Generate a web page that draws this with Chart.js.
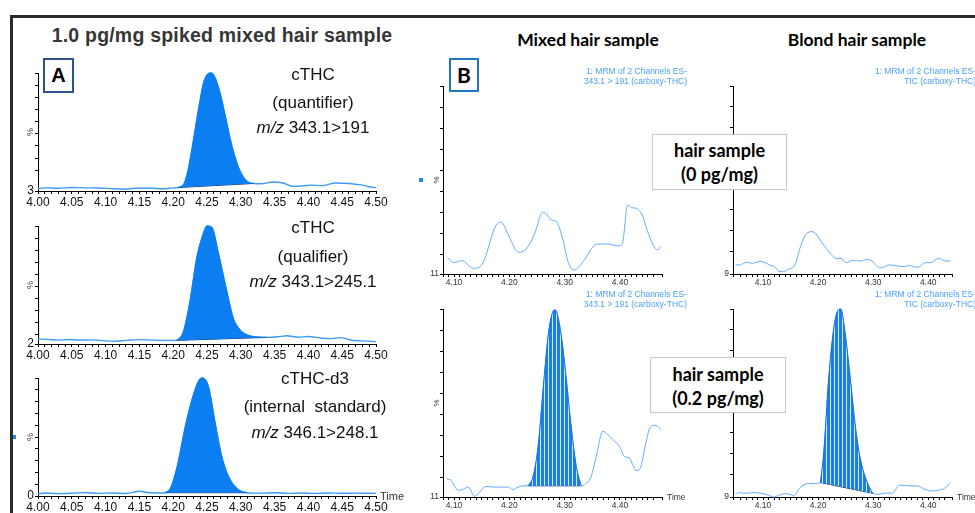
<!DOCTYPE html>
<html>
<head>
<meta charset="utf-8">
<script src="https://cdn.jsdelivr.net/npm/chart.js@4.4.0/dist/chart.umd.min.js"></script>
<style>
  body { margin: 0; width: 975px; height: 513px; position: relative; overflow: hidden; background: #fff;
         font-family: 'Liberation Sans', Arial, sans-serif; }
  canvas { position: absolute; z-index: 1; }
  .t { position: absolute; white-space: nowrap; transform: translate(-50%, -50%); z-index: 2; }
  .lbl { font-size: 17px; color: #111; }
  .head { font-family: Lato, 'Open Sans', sans-serif; font-weight: bold; font-size: 17.5px; color: #000; }
  .note { position: absolute; text-align: right; font-size: 8.5px; line-height: 10px; color: #4aa2ff; z-index: 2; white-space: nowrap; }
  .time { position: absolute; font-size: 8.5px; color: #333; z-index: 2; }
  .box { position: absolute; box-sizing: border-box; background: #fff; z-index: 3; text-align: center;
         font-family: Lato, 'Open Sans', sans-serif; font-weight: bold; font-size: 18px; color: #000; }
  .dot { position: absolute; width: 4px; height: 4px; background: #1e88ff; z-index: 2; }
</style>
</head>
<body>
<div style="position:absolute;left:10px;top:15px;width:965px;height:2.5px;background:#2b2b2b;z-index:4"></div>
<div style="position:absolute;left:10px;top:15px;width:2.5px;height:498px;background:#2b2b2b;z-index:4"></div>

<div class="t" style="left:222px;top:35px;font-weight:bold;font-size:19.5px;color:#363636;letter-spacing:0.2px">1.0 pg/mg spiked mixed hair sample</div>
<div class="box" style="left:43px;top:58px;width:31px;height:35px;border:2px solid #2f528f;font-family:'Liberation Sans',Arial;font-size:20px;line-height:31px">A</div>

<div class="t lbl" style="left:313px;top:75px">cTHC</div>
<div class="t lbl" style="left:313px;top:103px">(quantifier)</div>
<div class="t lbl" style="left:313px;top:128px"><i>m/z</i> 343.1&gt;191</div>
<div class="t lbl" style="left:313px;top:228px">cTHC</div>
<div class="t lbl" style="left:313px;top:257px">(qualifier)</div>
<div class="t lbl" style="left:313px;top:282px"><i>m/z</i> 343.1&gt;245.1</div>
<div class="t lbl" style="left:315px;top:379px">cTHC-d3</div>
<div class="t lbl" style="left:315px;top:407px">(internal&nbsp; standard)</div>
<div class="t lbl" style="left:315px;top:433px"><i>m/z</i> 346.1&gt;248.1</div>
<div class="time" style="left:380px;top:490px;font-size:11px">Time</div>
<div class="dot" style="left:12px;top:435px"></div>

<div class="t head" style="left:588px;top:39px">Mixed hair sample</div>
<div class="t head" style="left:857px;top:39px">Blond hair sample</div>
<div class="box" style="left:449px;top:58px;width:30px;height:34px;border:2px solid #1f77c4;font-size:21px;line-height:30px">B</div>
<div class="dot" style="left:419px;top:178px"></div>

<div class="note" style="right:288px;top:66px">1: MRM of 2 Channels ES-<br>343.1 &gt; 191 (carboxy-THC)</div>
<div class="note" style="right:-1px;top:66px">1: MRM of 2 Channels ES-<br>TIC (carboxy-THC)</div>
<div class="note" style="right:288px;top:289px">1: MRM of 2 Channels ES-<br>343.1 &gt; 191 (carboxy-THC)</div>
<div class="note" style="right:-1px;top:289px">1: MRM of 2 Channels ES-<br>TIC (carboxy-THC)</div>
<div class="time" style="left:667px;top:492px">Time</div>
<div class="time" style="left:957px;top:492px">Time</div>

<div class="box" style="left:652px;top:134px;width:135px;height:56px;border:1px solid #c8c8c8;line-height:23.5px;padding-top:4px">hair sample<br>(0 pg/mg)</div>
<div class="box" style="left:650px;top:357px;width:136px;height:56px;border:1px solid #c8c8c8;line-height:24px;padding-top:4px">hair sample<br>(0.2 pg/mg)</div>

<canvas id="quant"></canvas>
<canvas id="qual"></canvas>
<canvas id="istd"></canvas>
<canvas id="mixBlank"></canvas>
<canvas id="blondBlank"></canvas>
<canvas id="mixSpike"></canvas>
<canvas id="blondSpike"></canvas>

<script>
// Panel A: 1.0 pg/mg spiked mixed hair, cTHC quantifier 343.1>191
const quantTime  = [4.000, 4.010, 4.030, 4.050, 4.070, 4.090, 4.110, 4.130, 4.150, 4.170, 4.185, 4.200, 4.206,
                    4.215, 4.222, 4.230, 4.238, 4.245, 4.251, 4.256, 4.262, 4.270, 4.278, 4.286, 4.293, 4.300,
                    4.310, 4.319, 4.330, 4.348, 4.362, 4.378, 4.392, 4.405, 4.420, 4.440, 4.460, 4.478, 4.490, 4.500];
const quantValue = [4.8, 5.6, 5.3, 5.9, 5.6, 5.5, 4.8, 4.5, 5.5, 5.3, 4.8, 5.6, 5.8,
                    8, 20, 45, 72, 92, 99, 100, 96, 82, 62, 42, 28, 18,
                    10.5, 9.2, 9.0, 10.4, 9.6, 6.8, 7.2, 7.8, 7.4, 9.6, 9.2, 8.0, 6.5, 5.8];
const quantBaseTime  = [4.206, 4.319];
const quantBaseValue = [5.8, 9.2];

// cTHC qualifier 343.1>245.1
const qualTime  = [4.000, 4.015, 4.030, 4.045, 4.060, 4.080, 4.100, 4.115, 4.130, 4.150, 4.170, 4.190, 4.205,
                   4.215, 4.225, 4.235, 4.243, 4.250, 4.257, 4.267, 4.280, 4.289, 4.297, 4.304, 4.319, 4.339,
                   4.355, 4.368, 4.385, 4.400, 4.420, 4.435, 4.448, 4.462, 4.480, 4.500];
const qualValue = [6.2, 5.8, 5.2, 5.7, 5.3, 5.4, 4.6, 4.3, 5.0, 5.6, 5.2, 5.0, 5.0,
                   12, 38, 74, 91, 100, 99, 77, 44, 23, 15, 11, 8.1, 7.5,
                   8.0, 8.8, 7.6, 8.2, 6.8, 6.5, 7.3, 5.3, 4.6, 4.0];
const qualBaseTime  = [4.205, 4.339];
const qualBaseValue = [5.0, 7.5];

// cTHC-d3 internal standard 346.1>248.1
const istdTime  = [4.000, 4.010, 4.030, 4.050, 4.070, 4.090, 4.110, 4.130, 4.150, 4.165, 4.180, 4.188,
                   4.196, 4.206, 4.218, 4.228, 4.238, 4.243, 4.252, 4.262, 4.272, 4.284, 4.297, 4.309,
                   4.330, 4.350, 4.370, 4.390, 4.410, 4.430, 4.450, 4.470, 4.500];
const istdValue = [1.8, 2.6, 2.0, 2.3, 3.0, 2.2, 2.6, 2.1, 4.0, 2.7, 2.6, 2.8,
                   6.5, 25, 59, 82, 98, 100, 93, 62, 33, 14, 5.1, 2.8,
                   2.4, 2.8, 2.2, 2.5, 2.2, 2.5, 2.3, 2.4, 2.2];
const istdBaseTime  = [4.188, 4.309];
const istdBaseValue = [2.8, 2.8];

// Panel B: mixed hair blank (0 pg/mg)
const mixBlankTime  = [4.088, 4.099, 4.114, 4.135, 4.151, 4.174, 4.185, 4.198, 4.213, 4.219, 4.234, 4.246, 4.260,
                       4.265, 4.276, 4.284, 4.297, 4.306, 4.317, 4.333, 4.358, 4.378, 4.396, 4.404, 4.414, 4.421,
                       4.429, 4.441, 4.450, 4.468, 4.474];
const mixBlankValue = [18.9, 16.4, 17.3, 13.7, 15.6, 33.1, 35.6, 29.5, 21.9, 21.3, 24.0, 30.3, 40.2,
                       39.9, 36.6, 36.1, 27.1, 16.8, 12.9, 16.8, 25.1, 25.2, 24.3, 25.1, 43.7, 42.4,
                       42.1, 38.5, 31.0, 22.4, 24.0];

// blond hair blank (0 pg/mg)
const blondBlankTime  = [4.050, 4.058, 4.070, 4.080, 4.096, 4.112, 4.121, 4.129, 4.137, 4.146, 4.157, 4.168, 4.176,
                         4.187, 4.193, 4.207, 4.222, 4.234, 4.242, 4.251, 4.262, 4.277, 4.289, 4.300, 4.312, 4.330,
                         4.343, 4.358, 4.364, 4.380, 4.395, 4.404, 4.419, 4.431, 4.440];
const blondBlankValue = [13.4, 13.4, 14.7, 14.2, 15.1, 13.4, 12.5, 10.3, 10.1, 11.3, 13.0, 22.2, 27.4,
                         29.5, 29.2, 24.2, 19.0, 16.4, 16.6, 14.5, 15.5, 15.3, 16.1, 14.8, 11.9, 13.4,
                         13.0, 12.5, 13.2, 12.2, 14.5, 14.5, 16.6, 15.3, 15.3];

// mixed hair 0.2 pg/mg
const mixSpikeTime  = [4.087, 4.093, 4.108, 4.115, 4.126, 4.137, 4.146, 4.157, 4.171, 4.183, 4.198, 4.206, 4.216,
                       4.225, 4.234, 4.243, 4.252, 4.261, 4.270, 4.276, 4.282, 4.286, 4.294, 4.303, 4.311, 4.321,
                       4.330, 4.338, 4.348, 4.357, 4.369, 4.378, 4.387, 4.399, 4.408, 4.417, 4.423, 4.429, 4.436,
                       4.447, 4.454, 4.465, 4.474];
const mixSpikeValue = [19.5, 19.2, 14.1, 14.5, 15.7, 11.3, 13.2, 16.0, 15.7, 15.7, 15.7, 14.5, 15.7,
                       16.3, 16.3, 20.8, 35.0, 61.8, 87.0, 96.5, 99.7, 98.1, 87.0, 66.5, 46.0, 25.5,
                       16.3, 17.3, 20.8, 30.2, 42.1, 40.5, 38.1, 35.0, 30.2, 29.5, 26.3, 23.5, 24.3,
                       36.6, 43.7, 44.9, 42.9];
const mixSpikeBaseTime  = [4.234, 4.330];
const mixSpikeBaseValue = [16.3, 16.3];

// blond hair 0.2 pg/mg
const blondSpikeTime  = [4.050, 4.057, 4.067, 4.079, 4.098, 4.110, 4.120, 4.128, 4.138, 4.149, 4.156, 4.167, 4.182,
                         4.195, 4.204, 4.210, 4.219, 4.228, 4.234, 4.241, 4.249, 4.258, 4.267, 4.276, 4.288, 4.299,
                         4.310, 4.322, 4.334, 4.348, 4.365, 4.380, 4.392, 4.407, 4.419, 4.431, 4.440];
const blondSpikeValue = [10.3, 11.1, 10.8, 11.1, 10.8, 9.8, 9.0, 9.8, 10.6, 10.3, 9.5, 13.5, 15.5,
                         15.5, 16.0, 29.8, 65.5, 89.9, 98.1, 100, 88.3, 67.2, 44.4, 28.2, 16.8, 10.8,
                         10.3, 10.9, 10.8, 14.8, 14.4, 14.4, 12.9, 11.9, 12.3, 13.5, 16.0];
const blondSpikeBaseTime  = [4.204, 4.299];
const blondSpikeBaseValue = [16.0, 10.8];

const YW = 30, PT = 10, PR = 22, XH = 22;

function stripes() {
    const c = document.createElement('canvas');
    c.width = 4; c.height = 4;
    const g = c.getContext('2d');
    g.fillStyle = '#1a7fe8';
    g.fillRect(0, 0, 4, 4);
    g.fillStyle = '#d2e8ff';
    g.fillRect(3, 0, 1, 4);
    return g.createPattern(c, 'repeat');
}

const isMult = (v, step) => Math.abs(v / step - Math.round(v / step)) < 1e-6;
const pts = (ts, vs) => ts.map((t, i) => ({ x: t, y: vs[i] }));

function drawTrace(id, c) {
    const cv = document.getElementById(id);
    cv.width = YW + c.w + PR;
    cv.height = PT + c.h + XH;
    cv.style.left = (c.x - YW) + 'px';
    cv.style.top = (c.y - PT) + 'px';

    const trace = pts(c.time, c.value);
    const datasets = [];
    if (c.baseTime) {
        const t0 = c.baseTime[0], t1 = c.baseTime[1];
        datasets.push({
            data: trace.filter(p => p.x >= t0 && p.x <= t1),
            borderColor: c.peakLine, borderWidth: 1,
            backgroundColor: c.peakFill, fill: 1
        });
        datasets.push({
            data: pts(c.baseTime, c.baseValue),
            borderColor: '#1f3763', borderWidth: 1, fill: false
        });
    }
    datasets.push({ data: trace, borderColor: c.line, borderWidth: c.lw, fill: false });
    datasets.forEach(d => { d.pointRadius = 0; d.cubicInterpolationMode = 'monotone'; d.clip = 3; });

    const font = { family: "'Liberation Sans', Arial, sans-serif", size: c.fs };
    new Chart(cv, {
        type: 'line',
        data: { datasets },
        options: {
            responsive: false,
            animation: false,
            events: [],
            layout: { padding: { top: PT, right: PR, left: 0, bottom: 0 } },
            plugins: { legend: { display: false }, tooltip: { enabled: false } },
            scales: {
                x: {
                    type: 'linear', min: c.xmin, max: c.xmax,
                    afterFit: s => { s.height = XH; },
                    border: { color: '#000', width: 1 },
                    grid: { drawOnChartArea: false, tickLength: 3, color: '#000' },
                    ticks: {
                        stepSize: 0.01, maxTicksLimit: 100, autoSkip: false, maxRotation: 0, minRotation: 0,
                        padding: 1, color: c.tickColor, font,
                        callback: v => isMult(v, c.labelStep) ? v.toFixed(2) : ''
                    }
                },
                y: {
                    min: c.ymin, max: 100,
                    afterFit: s => { s.width = YW; },
                    border: { color: '#000', width: 1 },
                    grid: { drawOnChartArea: false, tickLength: 3, color: '#000' },
                    title: { display: true, text: '%', color: '#333', font: { family: font.family, size: c.pfs },
                             padding: { top: c.pct, bottom: 0 } },
                    ticks: {
                        stepSize: 10, maxTicksLimit: 20, autoSkip: false, padding: 1, color: c.tickColor, font,
                        callback: (v, i) => i === 0 ? String(c.ymin) : ''
                    }
                }
            }
        }
    });
}

const panelA = { w: 338, h: 118, x: 38, xmin: 4.00, xmax: 4.50, labelStep: 0.05, fs: 12, pfs: 9, pct: 17.6,
                 tickColor: '#111', line: '#3d9bf7', lw: 1.4, peakLine: '#0b7ef2', peakFill: '#0b7ef2' };
const pat = stripes();
const panelB = { w: 219, h: 188, labelStep: 0.1, fs: 8.5, pfs: 8, pct: 19.2,
                 tickColor: '#333', line: '#62acff', lw: 1, peakLine: '#1570d8', peakFill: pat };

drawTrace('quant', Object.assign({}, panelA, { y: 73, ymin: 3, time: quantTime, value: quantValue,
          baseTime: quantBaseTime, baseValue: quantBaseValue }));
drawTrace('qual', Object.assign({}, panelA, { y: 226, ymin: 2, time: qualTime, value: qualValue,
          baseTime: qualBaseTime, baseValue: qualBaseValue }));
drawTrace('istd', Object.assign({}, panelA, { y: 378, ymin: 0, time: istdTime, value: istdValue,
          baseTime: istdBaseTime, baseValue: istdBaseValue }));

drawTrace('mixBlank', Object.assign({}, panelB, { x: 443, y: 86, xmin: 4.08, xmax: 4.476, ymin: 11,
          time: mixBlankTime, value: mixBlankValue }));
drawTrace('blondBlank', Object.assign({}, panelB, { x: 733, y: 86, xmin: 4.0455, xmax: 4.443, ymin: 9,
          time: blondBlankTime, value: blondBlankValue }));
drawTrace('mixSpike', Object.assign({}, panelB, { x: 443, y: 309, xmin: 4.08, xmax: 4.476, ymin: 11,
          time: mixSpikeTime, value: mixSpikeValue, baseTime: mixSpikeBaseTime, baseValue: mixSpikeBaseValue }));
drawTrace('blondSpike', Object.assign({}, panelB, { x: 733, y: 309, xmin: 4.0455, xmax: 4.443, ymin: 9,
          time: blondSpikeTime, value: blondSpikeValue, baseTime: blondSpikeBaseTime, baseValue: blondSpikeBaseValue }));
</script>
</body>
</html>
